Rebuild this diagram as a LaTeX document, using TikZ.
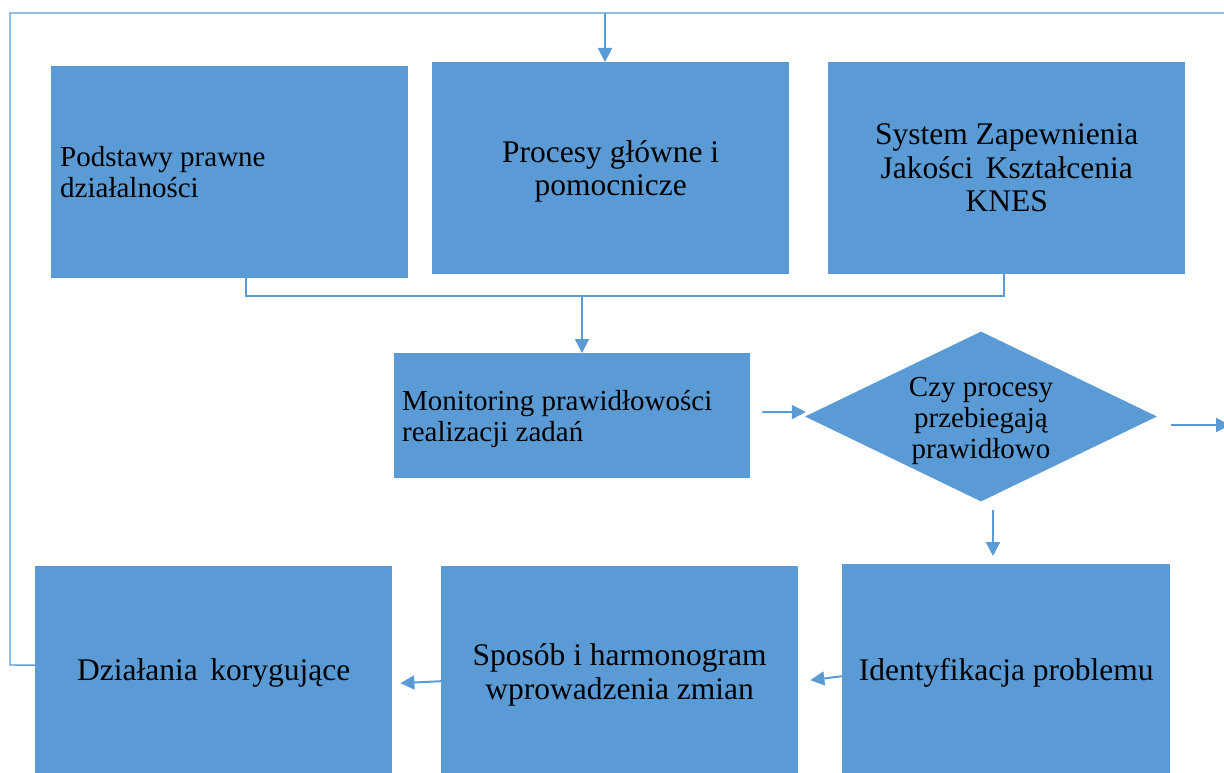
\documentclass[tikz,border=0pt]{standalone}
\usepackage{fontspec}
\setmainfont{Liberation Serif}
\usetikzlibrary{shapes.geometric,arrows.meta}
\definecolor{wblue}{HTML}{5B9BD5}
\begin{document}
\begin{tikzpicture}[x=1pt,y=-1pt,
  box/.style={fill=wblue,draw=none,inner sep=0pt,anchor=north west},
  bigtxt/.style={font=\fontsize{31.5}{33.5}\selectfont,align=center,inner sep=0pt},
  smtxt/.style={font=\fontsize{29}{31}\selectfont,align=left,inner sep=0pt,anchor=west},
  conn/.style={draw=wblue,line width=1.4pt},
  arr/.style={draw=wblue,line width=2pt,-{Triangle[length=14pt,width=14pt]}},
  dia/.style={diamond,fill=wblue,draw=none,inner sep=0pt,minimum width=352pt,minimum height=170pt},
  dtxt/.style={font=\fontsize{29}{31}\selectfont,align=center,inner sep=0pt}]
\useasboundingbox (0,0) rectangle (1224,773);
% top row
\node[box,minimum width=357pt,minimum height=212pt] (b1) at (51,66) {};
\node[smtxt] (t1) at ([xshift=9pt]b1.west) {Podstawy prawne\\działalności};
\node[box,minimum width=357pt,minimum height=212pt] (b2) at (432,62) {};
\node[bigtxt] (t2) at ([yshift=-3pt]b2.center) {Procesy główne i\\pomocnicze};
\node[box,minimum width=357pt,minimum height=212pt] (b3) at (828,62) {};
\node[bigtxt] (t3) at (b3.center) {System Zapewnienia\\Jakości\hspace{0.4em}Kształcenia\\KNES};
% middle
\node[box,minimum width=356pt,minimum height=125pt] (mon) at (394,353) {};
\node[smtxt] (tm) at ([xshift=8pt,yshift=-3pt]mon.west) {Monitoring prawidłowości\\realizacji zadań};
\node[dia] (d) at (981,416.5) {};
\node[dtxt] (dt) at ([yshift=-4pt]d.center) {Czy procesy\\przebiegają\\prawidłowo};
% bottom row
\node[box,minimum width=357pt,minimum height=207pt] (bA) at (35,566) {};
\node[bigtxt] (tA) at ([yshift=-3pt]bA.center) {Działania\hspace{0.4em}korygujące};
\node[box,minimum width=357pt,minimum height=207pt] (bB) at (441,566) {};
\node[bigtxt] (tB) at ([yshift=-5pt]bB.center) {Sposób i harmonogram\\wprowadzenia zmian};
\node[box,minimum width=328pt,minimum height=209pt] (bC) at (842,564) {};
\node[bigtxt] (tC) at ([yshift=-4pt]bC.center) {Identyfikacja problemu};
% coordinates
\coordinate (lx) at (10,665);
\coordinate (tl) at (10,13);
\coordinate (tr) at (1224,13);
\coordinate (top2) at (605,13);
\coordinate (m1) at (246,296);
\coordinate (m3) at (1004,296);
\coordinate (mx) at (582,296);
\coordinate (xd) at (993,0);
\coordinate (exitR) at (1230,425);
% feedback loop
\draw[conn] ([yshift=4.5pt]bA.west) -- (lx) -- (tl) -- (tr);
\draw[arr] (top2) -- (top2 |- b2.north);
% merge
\draw[conn] (b1.south -| m1) -- (m1) -- (m3) -- (b3.south -| m3);
\draw[arr] (mx) -- (mx |- mon.north);
% monitoring -> diamond
\draw[arr] ([xshift=12pt,yshift=3.5pt]mon.east) -- ([xshift=1pt,yshift=4.5pt]d.west);
% diamond right exit
\draw[arr] ([xshift=14pt,yshift=-8.5pt]d.east) -- (exitR);
% diamond down
\draw[arr,shorten <=8pt,shorten >=8pt] (d.south -| xd) -- (bC.north -| xd);
% bottom arrows
\draw[arr] ([yshift=-7.5pt]bC.west) -- ([xshift=12pt,yshift=-10.5pt]bB.east);
\draw[arr] ([yshift=-11.5pt]bB.west) -- ([xshift=8pt,yshift=-13.5pt]bA.east);
\end{tikzpicture}
\end{document}
